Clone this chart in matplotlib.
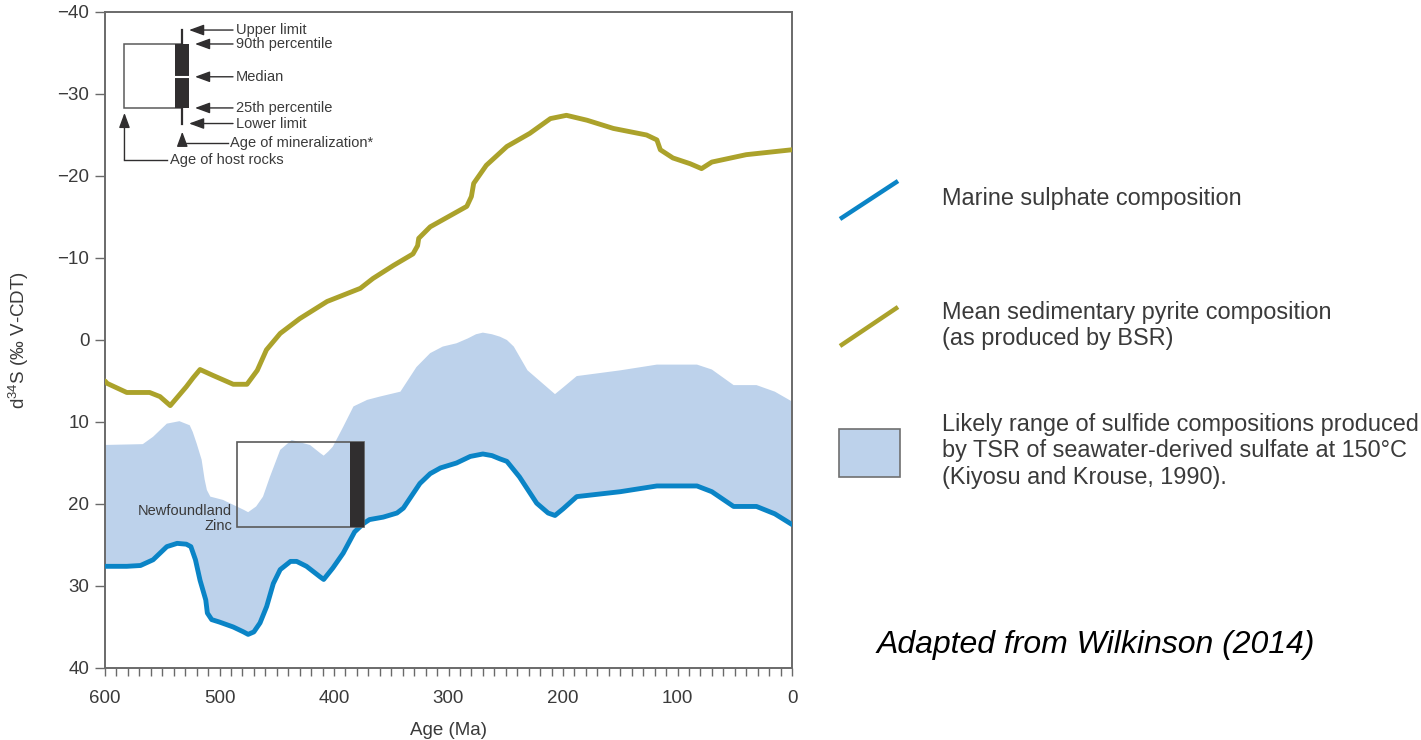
import matplotlib.pyplot as plt
import numpy as np
from matplotlib.lines import Line2D
from matplotlib.patches import Rectangle

plt.rcParams['font.family'] = ['Liberation Sans', 'DejaVu Sans']
plt.rcParams['mathtext.default'] = 'regular'

TEXT = '#3a3a3a'
AXIS = '#6a6a6a'
BLUE = '#0a84c6'
OLIVE = '#aba22b'
FILL = '#bdd2eb'
BAR = '#302e2f'

# Marine sulphate d34S through time
sulphate_age = [600, 581, 569, 558, 546, 537, 529, 525, 521, 517, 512, 510.6, 506.8,
                500, 488, 479, 475, 470, 464.6, 458.8, 453, 447, 438, 432.6, 424,
                412, 409, 405, 401, 392, 382, 374.4, 369, 357, 345, 339.4, 325, 316,
                307, 293, 281, 270, 262, 255, 249, 238, 223, 213, 207, 200, 188,
                150, 118, 83, 70, 51, 31, 15, 0]
sulphate_d34s = [27.6, 27.6, 27.5, 26.8, 25.2, 24.8, 24.9, 25.2, 26.8, 29.3, 31.7,
                 33.3, 34.1, 34.4, 35.0, 35.6, 35.9, 35.6, 34.5, 32.5, 29.7, 28.0,
                 27.0, 27.0, 27.6, 28.9, 29.2, 28.5, 27.8, 26.0, 23.4, 22.4, 21.9,
                 21.6, 21.1, 20.5, 17.5, 16.3, 15.6, 15.0, 14.2, 13.9, 14.1, 14.5,
                 14.8, 16.7, 19.9, 21.1, 21.4, 20.6, 19.1, 18.5, 17.8, 17.8, 18.5,
                 20.3, 20.3, 21.2, 22.5]

# Upper edge of the TSR sulfide range (lower edge is the sulphate curve)
tsr_age = [600, 567, 558, 546, 535, 526, 523.4, 520, 515.6, 513, 511, 508, 497, 485,
           479, 475, 468, 462, 456, 447, 437, 421, 412, 409, 405, 401, 392, 383,
           371, 360, 342, 328, 316, 305, 293, 283, 276, 270, 262, 255, 249, 243,
           231, 207, 200, 188, 150, 118, 83, 70, 51, 31, 15, 0]
tsr_upper = [12.8, 12.7, 11.8, 10.2, 9.9, 10.4, 11.2, 12.6, 14.6, 17.0, 18.3, 19.1,
             19.5, 20.3, 20.7, 21.0, 20.3, 19.1, 16.7, 13.4, 12.2, 12.8, 13.8, 14.1,
             13.6, 13.0, 10.6, 8.1, 7.3, 6.9, 6.3, 3.3, 1.6, 0.8, 0.4, -0.2, -0.7,
             -0.9, -0.7, -0.4, 0.0, 0.8, 3.7, 6.6, 5.8, 4.4, 3.7, 3.0, 3.0, 3.6, 5.5,
             5.5, 6.3, 7.5]

# Mean sedimentary pyrite (BSR)
pyrite_age = [600, 598, 581, 561, 552, 543, 529, 523, 517, 506, 488, 476, 467, 459,
              447, 430, 406, 377, 366, 348, 331, 327, 326, 316, 284, 280, 278, 267,
              249, 229, 211, 197, 179, 156, 127, 118, 115, 104, 89, 79, 70, 40, 0]
pyrite_d34s = [5.0, 5.3, 6.4, 6.4, 6.9, 8.0, 5.7, 4.6, 3.6, 4.3, 5.4, 5.4, 3.7, 1.2,
               -0.8, -2.6, -4.7, -6.3, -7.5, -9.1, -10.5, -11.5, -12.4, -13.8, -16.3,
               -17.5, -19.1, -21.3, -23.6, -25.2, -27.0, -27.4, -26.8, -25.8, -25.0,
               -24.4, -23.2, -22.2, -21.5, -20.9, -21.7, -22.6, -23.2]

# Newfoundland Zinc deposit: host rock ages, mineralization age and d34S range
nfld_host = (485, 374)
nfld_min_age = 380
nfld_range = (12.4, 22.8)

# Schematic key for the deposit boxes
key_host = (583, 532.5)
key_min_age = 532.5
key_upper, key_p90, key_median, key_p25, key_lower = -37.8, -36.1, -32.1, -28.3, -26.4
bar_half = 6

fig = plt.figure(figsize=(14.21, 7.40), dpi=100)
ax = fig.add_axes([105 / 1421, 1 - 668 / 740, 687 / 1421, 656 / 740])

ax.fill(np.concatenate([tsr_age, sulphate_age[::-1]]),
        np.concatenate([tsr_upper, sulphate_d34s[::-1]]),
        color=FILL, lw=0, zorder=1)
ax.plot(sulphate_age, sulphate_d34s, color=BLUE, lw=3.5, solid_joinstyle='round',
        solid_capstyle='round', zorder=3)
ax.plot(pyrite_age, pyrite_d34s, color=OLIVE, lw=3.5, solid_joinstyle='round',
        solid_capstyle='round', zorder=3)

# Newfoundland Zinc box
ax.add_patch(Rectangle((nfld_host[1], nfld_range[0]), nfld_host[0] - nfld_host[1],
                       nfld_range[1] - nfld_range[0], fill=False, ec='#5a5a5a',
                       lw=1.2, zorder=4))
ax.add_patch(Rectangle((nfld_min_age - bar_half, nfld_range[0]), 2 * bar_half,
                       nfld_range[1] - nfld_range[0], color=BAR, lw=0, zorder=5))
ax.text(nfld_host[0] + 4, nfld_range[1] - 1.9, 'Newfoundland', ha='right', va='center',
        fontsize=10.5, color=TEXT)
ax.text(nfld_host[0] + 4, nfld_range[1] - 0.1, 'Zinc', ha='right', va='center',
        fontsize=10.5, color=TEXT)

# Key
ax.add_patch(Rectangle((key_host[1], key_p90), key_host[0] - key_host[1],
                       key_p25 - key_p90, fill=False, ec='#5a5a5a', lw=1.1, zorder=4))
ax.plot([key_min_age, key_min_age], [key_upper, key_lower], color=BAR, lw=1.6, zorder=5)
ax.add_patch(Rectangle((key_min_age - bar_half, key_p90), 2 * bar_half,
                       key_p25 - key_p90, color=BAR, lw=0, zorder=5))
ax.plot([key_min_age - bar_half, key_min_age + bar_half], [key_median, key_median],
        color='white', lw=1.5, zorder=6)

arrow = dict(arrowstyle='-|>,head_length=0.6,head_width=0.22', color=BAR, lw=1,
             shrinkA=0, shrinkB=0, mutation_scale=15)
key_labels = [('Upper limit', key_upper, 526.6),
              ('90th percentile', key_p90, 521.4),
              ('Median', key_median, 521.4),
              ('25th percentile', key_p25, 521.4),
              ('Lower limit', key_lower, 526.6)]
for label, yv, tip in key_labels:
    ax.annotate('', xy=(tip, yv), xytext=(488.2, yv), arrowprops=arrow, zorder=6)
    ax.text(485.6, yv, label, ha='left', va='center', fontsize=10.5, color=TEXT)

ax.annotate('', xy=(key_min_age, -25.4), xytext=(key_min_age, -24.0), arrowprops=arrow)
ax.plot([key_min_age, 492.6], [-24.0, -24.0], color=BAR, lw=1)
ax.text(490.8, -24.0, 'Age of mineralization*', ha='left', va='center',
        fontsize=10.5, color=TEXT)
ax.annotate('', xy=(key_host[0], -27.7), xytext=(key_host[0], -21.95), arrowprops=arrow)
ax.plot([key_host[0], 545.9], [-21.95, -21.95], color=BAR, lw=1)
ax.text(543.2, -21.95, 'Age of host rocks', ha='left', va='center',
        fontsize=10.5, color=TEXT)

# Axes styling
ax.set_xlim(600, 0)
ax.set_ylim(40, -40)
ax.set_xticks(np.arange(600, -1, -100))
ax.set_xticks(np.arange(600, -1, -10), minor=True)
ax.set_yticks(np.arange(-40, 41, 10))
ax.tick_params(axis='x', which='both', direction='out', length=5.8, width=1,
               color=AXIS, pad=10, labelsize=13.5, labelcolor=TEXT)
ax.tick_params(axis='y', direction='out', length=7.2, width=1, color=AXIS,
               pad=4, labelsize=13.5, labelcolor=TEXT)
for sp in ax.spines.values():
    sp.set_color(AXIS)
    sp.set_linewidth(1.4)

ax.set_xlabel('Age (Ma)', fontsize=13.5, color=TEXT)
ax.xaxis.set_label_coords(0.5, -0.082)
ax.set_ylabel('d$^{34}$S (‰ V-CDT)', fontsize=13.5, color=TEXT)
ax.yaxis.set_label_coords(-0.108, 0.5)


# Legend drawn in figure pixel space
def fx(px):
    return px / 1421


def fy(py):
    return 1 - py / 740


fig.add_artist(Line2D([fx(840), fx(898)], [fy(219), fy(181)], color=BLUE, lw=3.2,
                      solid_capstyle='butt'))
fig.add_artist(Line2D([fx(840), fx(898)], [fy(346), fy(307)], color=OLIVE, lw=3.2,
                      solid_capstyle='butt'))
fig.add_artist(Rectangle((fx(839), fy(477)), fx(900) - fx(839), fy(429) - fy(477),
                         transform=fig.transFigure, fc=FILL, ec='#707070', lw=1.2))

legend_lines = [('Marine sulphate composition', 198),
                ('Mean sedimentary pyrite composition', 312),
                ('(as produced by BSR)', 339),
                ('Likely range of sulfide compositions produced', 425),
                ('by TSR of seawater-derived sulfate at 150°C', 451),
                ('(Kiyosu and Krouse, 1990).', 478)]
for txt, py in legend_lines:
    fig.text(fx(942), fy(py), txt, ha='left', va='center', fontsize=16.9, color=TEXT)

fig.text(fx(1096), fy(645), 'Adapted from Wilkinson (2014)', ha='center', va='center',
         fontsize=23, style='italic', color='black')

fig.savefig('out.png', dpi=100)
